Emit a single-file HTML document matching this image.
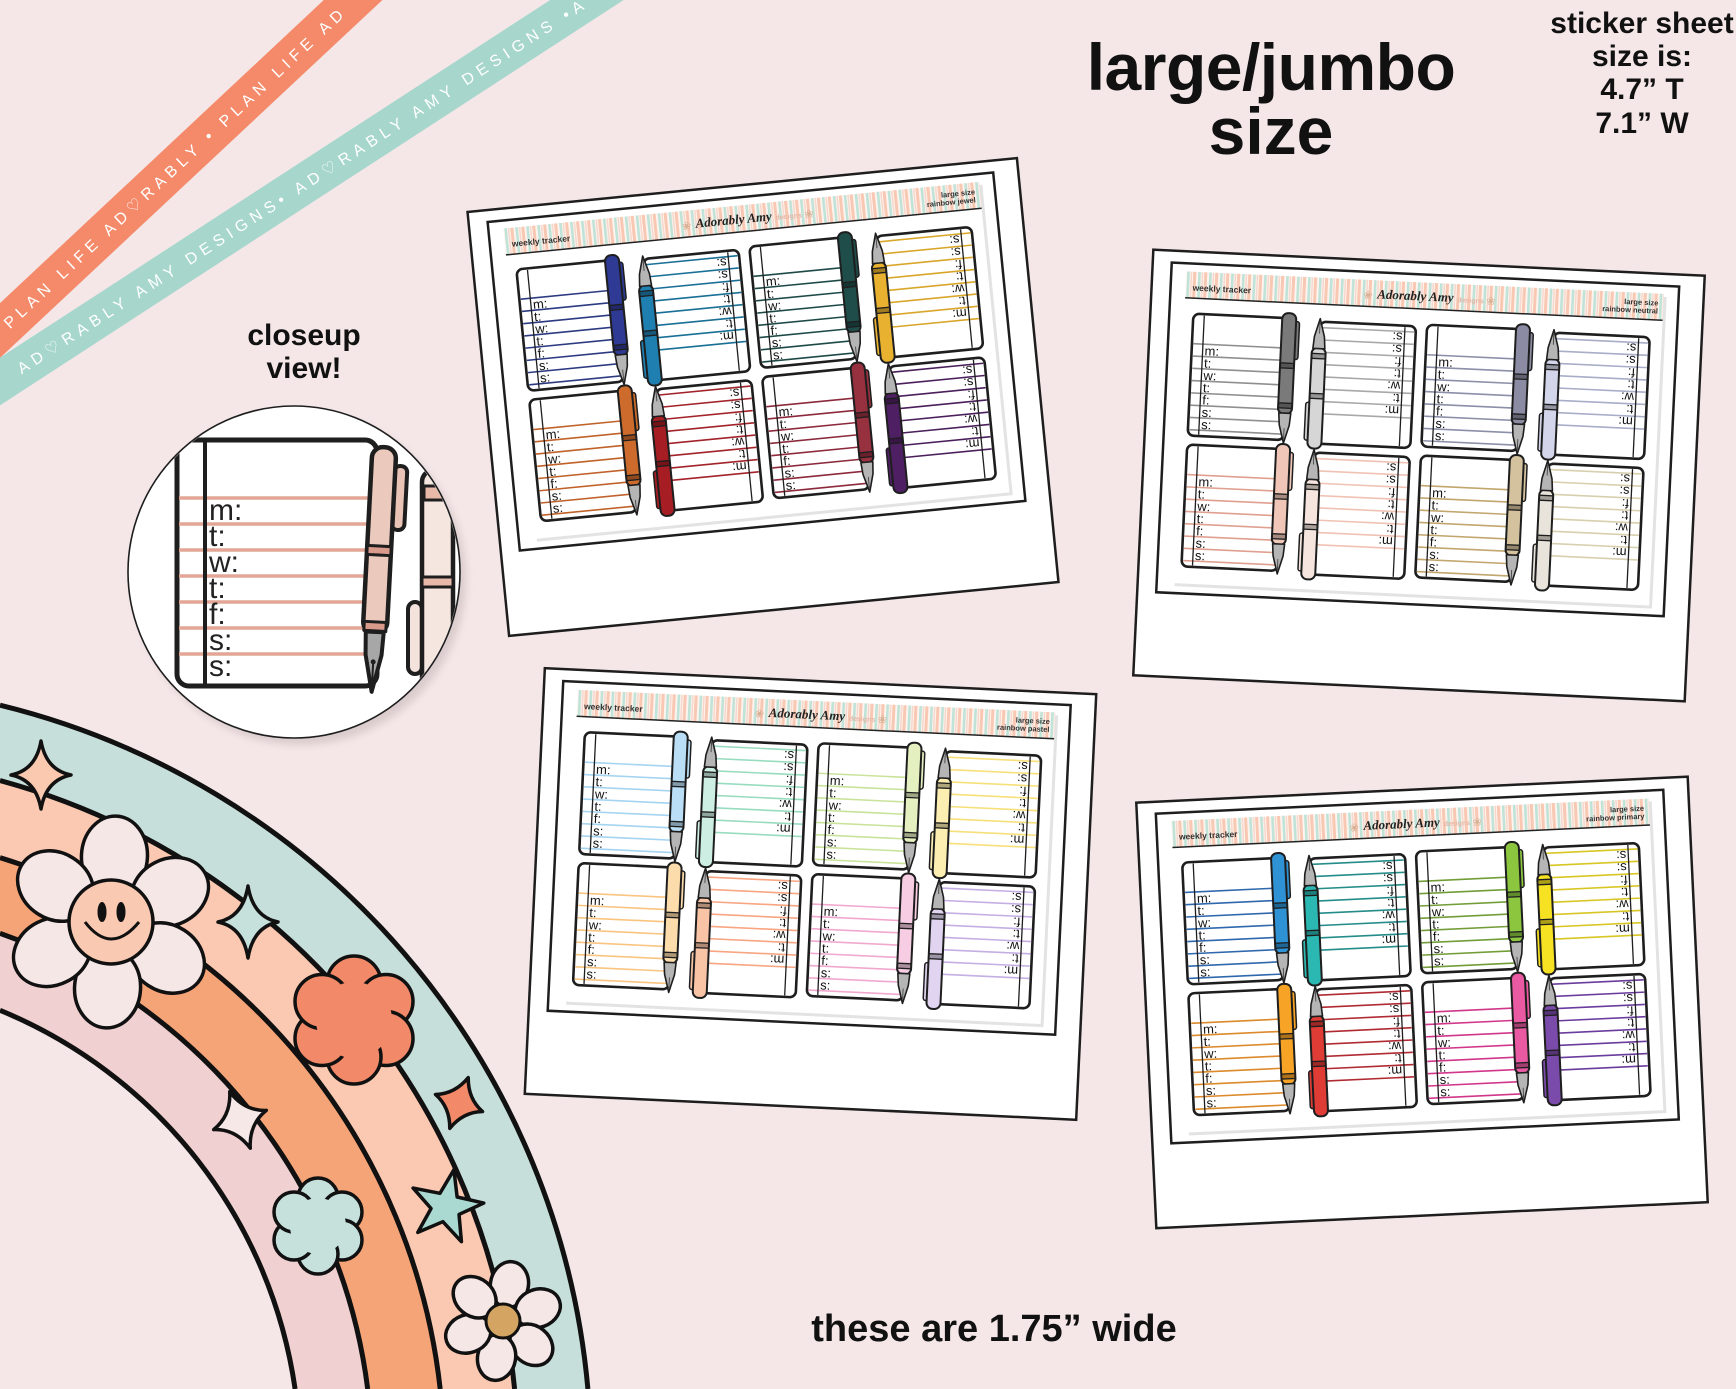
<!DOCTYPE html>
<html><head><meta charset="utf-8"><style>
html,body{margin:0;padding:0;background:#f5e7e8;width:1736px;height:1389px;overflow:hidden;}
svg{display:block;}
</style></head><body>
<svg width="1736" height="1389" viewBox="0 0 1736 1389" xmlns="http://www.w3.org/2000/svg" font-family="'Liberation Sans','DejaVu Sans',sans-serif">
<defs>
<pattern id="st" width="11" height="10" patternUnits="userSpaceOnUse">
<rect width="11" height="10" fill="#fdf3ef"/>
<rect x="0" width="3" height="10" fill="#f9c8b2"/>
<rect x="5" width="2.6" height="10" fill="#bfe3d7"/>
<rect x="8.6" width="1.4" height="10" fill="#f6d6ca"/>
</pattern>
<filter id="blur" x="-20%" y="-20%" width="140%" height="140%"><feGaussianBlur stdDeviation="4"/></filter>
<clipPath id="cc"><circle cx="294" cy="572" r="165"/></clipPath>
<g id="pen" stroke="#1e1e1e" stroke-linejoin="round">
<rect x="5.5" y="8" width="5" height="38" rx="2.5" stroke-width="1.5"/>
<rect x="-7" y="0" width="14" height="101" rx="6" stroke-width="2"/>
<rect x="-7" y="50" width="14" height="5" fill="#000" fill-opacity=".3" stroke-width="1.3"/>
<rect x="-7" y="90" width="14" height="5" fill="#000" fill-opacity=".3" stroke-width="1.3"/>
<path d="M-6 100H6L5 112L0 130L-5 112Z" fill="#b5b5b5" stroke-width="1.6"/>
<path d="M0 115V126" stroke="#444" stroke-width="0.9"/>
</g>
<g id="cA">
<rect width="96" height="122" rx="6" fill="#fff" stroke="#1e1e1e" stroke-width="2.6"/>
<path d="M1.5 30H93M1.5 42.3H93M1.5 54.6H93M1.5 66.9H93M1.5 79.2H93M1.5 91.5H93M1.5 103.8H93M1.5 116.1H93" stroke="currentColor" stroke-width="1.6" fill="none"/>
<path d="M11 1.5V120.5" stroke="#1e1e1e" stroke-width="1.3" fill="none"/>
<text font-size="13" fill="#111" font-family="'Liberation Sans',sans-serif"><tspan x="13" y="41">m:</tspan><tspan x="13" y="53.3">t:</tspan><tspan x="13" y="65.6">w:</tspan><tspan x="13" y="77.9">t:</tspan><tspan x="13" y="90.2">f:</tspan><tspan x="13" y="102.5">s:</tspan><tspan x="13" y="114.8">s:</tspan></text>
<use href="#pen" transform="translate(96,-5)"/>
</g>
<g id="pol">
<rect x="0" y="0" width="552" height="426" fill="#fff" stroke="#1e1e1e" stroke-width="2.5"/>
<rect x="19" y="12" width="508" height="330" fill="#fff" stroke="#1e1e1e" stroke-width="2.5"/>
<g transform="translate(19,12)">
<rect x="18" y="11" width="478" height="312" fill="#e3e3e3"/>
<rect x="15" y="8" width="478" height="312" fill="#fff"/>
<rect x="15" y="8" width="478" height="26" fill="url(#st)"/>
<path d="M15 34.5H493" stroke="#222" stroke-width="1.5"/>
<text x="22" y="27" font-size="8.5" font-weight="bold" fill="#333">weekly tracker</text>
<text x="193" y="27" font-size="11" fill="#d8b296" font-family="'DejaVu Sans',sans-serif">❀</text>
<text x="245" y="26" text-anchor="middle" font-family="'Liberation Serif',serif" font-style="italic" font-weight="bold" font-size="13" fill="#222">Adorably Amy</text>
<text x="287" y="26" font-size="7" font-weight="bold" fill="#e3b6a6">designs</text>
<text x="316" y="27" font-size="11" fill="#d8b296" font-family="'DejaVu Sans',sans-serif">❀</text>
<text x="488" y="20" text-anchor="end" font-size="7.5" font-weight="bold" fill="#333">large size</text>
</g>
</g>
</defs>

<!-- ribbons -->
<polygon points="0,303.1 323.8,0 382.4,0 0,357.9" fill="#f48a69"/>
<polygon points="0,357.65 550.2,0 623.6,0 0,405.35" fill="#a6d6cc"/>
<text transform="translate(0,330.5) rotate(-43.1)" x="8" y="6" fill="#fff" font-size="16" letter-spacing="5.2">PLAN LIFE AD♡RABLY • PLAN LIFE AD</text>
<text transform="translate(0,381.5) rotate(-33)" x="22" y="6" fill="#fff" font-size="16" letter-spacing="5.4">AD♡RABLY AMY DESIGNS• AD♡RABLY AMY DESIGNS •A</text>

<!-- titles -->
<text x="304" y="345" text-anchor="middle" font-size="30" font-weight="bold" fill="#111">closeup</text>
<text x="304" y="378" text-anchor="middle" font-size="30" font-weight="bold" fill="#111">view!</text>
<text x="1271" y="90" text-anchor="middle" font-size="66" font-weight="bold" fill="#111" letter-spacing="-0.5">large/jumbo</text>
<text x="1271" y="154" text-anchor="middle" font-size="66" font-weight="bold" fill="#111">size</text>
<g font-size="30" font-weight="bold" fill="#111" text-anchor="middle">
<text x="1642" y="33">sticker sheet</text>
<text x="1642" y="66">size is:</text>
<text x="1642" y="99">4.7” T</text>
<text x="1642" y="133">7.1” W</text>
</g>
<text x="994" y="1341" text-anchor="middle" font-size="38" font-weight="bold" fill="#111">these are 1.75” wide</text>

<!-- rainbow -->
<path d="M0 705.2A775 775 0 0 1 587.9 1389L514.6 1389A702 702 0 0 0 0 780.5Z" fill="#c6dfda"/>
<path d="M0 780.5A702 702 0 0 1 514.6 1389L440.2 1389A628 628 0 0 0 0 857.6Z" fill="#fbc9b2"/>
<path d="M0 857.6A628 628 0 0 1 440.2 1389L367.7 1389A556 556 0 0 0 0 933.3Z" fill="#f5a477"/>
<path d="M0 933.3A556 556 0 0 1 367.7 1389L295.1 1389A484 484 0 0 0 0 1010.3Z" fill="#f0d0d1"/>
<path d="M0 705.2A775 775 0 0 1 587.9 1389M0 780.5A702 702 0 0 1 514.6 1389M0 857.6A628 628 0 0 1 440.2 1389M0 933.3A556 556 0 0 1 367.7 1389M0 1010.3A484 484 0 0 1 295.1 1389" fill="none" stroke="#111" stroke-width="5"/>
<g stroke="#111" stroke-width="3.5" stroke-linejoin="round">
<path transform="translate(41,775)" d="M0 -34Q5 -5 30 0Q5 5 0 34Q-5 5 -30 0Q-5 -5 0 -34Z" fill="#fbc8b0"/>
<path transform="translate(248,922)" d="M0 -36Q5 -5 30 0Q5 5 0 36Q-5 5 -30 0Q-5 -5 0 -36Z" fill="#c6e0db"/>
<g transform="translate(111,922)" fill="#f6e7e7">
<ellipse transform="rotate(-87)" cx="66" cy="0" rx="40" ry="33"/>
<ellipse transform="rotate(-27)" cx="66" cy="0" rx="40" ry="33"/>
<ellipse transform="rotate(33)" cx="66" cy="0" rx="40" ry="33"/>
<ellipse transform="rotate(93)" cx="66" cy="0" rx="40" ry="33"/>
<ellipse transform="rotate(153)" cx="66" cy="0" rx="40" ry="33"/>
<ellipse transform="rotate(213)" cx="66" cy="0" rx="40" ry="33"/>
<circle r="42" fill="#f9c9b2"/>
<ellipse cx="-9" cy="-10" rx="4.5" ry="10" fill="#111" stroke="none"/>
<ellipse cx="10" cy="-10" rx="4.5" ry="10" fill="#111" stroke="none"/>
<path d="M-26 0Q0 34 28 0" fill="none" stroke-width="3"/>
</g>
<g transform="translate(354,1020)" fill="#f28a6a">
<circle cx="0" cy="-37" r="27"/><circle cx="32" cy="-18.5" r="27"/><circle cx="32" cy="18.5" r="27"/>
<circle cx="0" cy="37" r="27"/><circle cx="-32" cy="18.5" r="27"/><circle cx="-32" cy="-18.5" r="27"/>
<circle r="38" stroke="none"/>
</g>
<path transform="translate(459,1103) rotate(20)" d="M0 -27Q7 -7 25 0Q7 7 0 27Q-7 7 -25 0Q-7 -7 0 -27Z" fill="#f28a6a"/>
<path transform="translate(240,1120) rotate(-20)" d="M0 -30Q7 -7 28 0Q7 7 0 30Q-7 7 -28 0Q-7 -7 0 -30Z" fill="#f7e8e8"/>
<path transform="translate(446,1207) rotate(12)" d="M0 -38L8.8 -12.1L36.1 -11.7L14.3 4.6L22.3 30.7L0 15L-22.3 30.7L-14.3 4.6L-36.1 -11.7L-8.8 -12.1Z" fill="#a9d9d0"/>
<g transform="translate(318,1226)" fill="#c6e0db">
<circle cx="0" cy="-28" r="20"/><circle cx="24" cy="-14" r="20"/><circle cx="24" cy="14" r="20"/>
<circle cx="0" cy="28" r="20"/><circle cx="-24" cy="14" r="20"/><circle cx="-24" cy="-14" r="20"/>
<circle r="28" stroke="none"/>
</g>
<g transform="translate(503,1321)" fill="#f6e7e7">
<ellipse transform="rotate(-80)" cx="37" cy="0" rx="23" ry="19"/>
<ellipse transform="rotate(-20)" cx="37" cy="0" rx="23" ry="19"/>
<ellipse transform="rotate(40)" cx="37" cy="0" rx="23" ry="19"/>
<ellipse transform="rotate(100)" cx="37" cy="0" rx="23" ry="19"/>
<ellipse transform="rotate(160)" cx="37" cy="0" rx="23" ry="19"/>
<ellipse transform="rotate(220)" cx="37" cy="0" rx="23" ry="19"/>
<circle r="17" fill="#d3a462" stroke-width="3"/>
</g>
</g>

<!-- closeup circle -->
<circle cx="300" cy="579" r="166" fill="#b9a9aa" opacity=".45" filter="url(#blur)"/>
<circle cx="294" cy="572" r="166" fill="#fff" stroke="#1e1e1e" stroke-width="1.6"/>
<g clip-path="url(#cc)">
<rect x="177" y="440" width="200" height="246" rx="12" fill="#fff" stroke="#1e1e1e" stroke-width="5"/>
<path d="M179 498H372M179 524H372M179 550H372M179 576H372M179 602H372M179 628H372M179 654H372" stroke="#e2a596" stroke-width="3.5"/>
<path d="M205 442V684" stroke="#1e1e1e" stroke-width="4"/>
<text font-size="30" fill="#222"><tspan x="209" y="520">m:</tspan><tspan x="209" y="546">t:</tspan><tspan x="209" y="572">w:</tspan><tspan x="209" y="598">t:</tspan><tspan x="209" y="624">f:</tspan><tspan x="209" y="650">s:</tspan><tspan x="209" y="676">s:</tspan></text>
<g transform="rotate(3 378 570)" stroke="#1e1e1e" stroke-linejoin="round">
<rect x="389" y="465" width="13" height="64" rx="6" fill="#e9c3b6" stroke-width="4"/>
<rect x="366" y="447" width="24" height="186" rx="11" fill="#ecc9bd" stroke-width="4.5"/>
<rect x="366" y="546" width="24" height="9" fill="#d99a8b" stroke-width="3"/>
<rect x="367" y="622" width="22" height="9" fill="#d99a8b" stroke-width="3"/>
<path d="M369 632L387 632L386 655L378 692L370 655Z" fill="#a7a7a7" stroke-width="4"/>
<path d="M378 662V686" stroke-width="2"/>
<circle cx="378" cy="662" r="2.5" fill="#1e1e1e" stroke="none"/>
</g>
<g stroke="#1e1e1e" stroke-linejoin="round">
<rect x="408" y="602" width="14" height="72" rx="7" fill="#f4e3dc" stroke-width="4"/>
<rect x="422" y="470" width="31" height="300" rx="12" fill="#f5e6e0" stroke-width="4.5"/>
<rect x="424" y="486" width="27" height="14" fill="#e8b9a8" stroke-width="3"/>
<rect x="422" y="577" width="31" height="10" fill="#e8b9a8" stroke-width="3"/>
</g>
</g>

<!-- polaroid 1: jewel -->
<g transform="translate(763,397) rotate(-5.6) translate(-276,-213)">
<use href="#pol"/>
<g transform="translate(19,12)">
<text x="488" y="28" text-anchor="end" font-size="7.5" font-weight="bold" fill="#333">rainbow jewel</text>
<use href="#cA" transform="translate(24,50)" color="#2c3a82" fill="#2e3a94"/>
<use href="#cA" transform="translate(247,174) rotate(180)" color="#1a6f96" fill="#1f7fb0"/>
<use href="#cA" transform="translate(258,50)" color="#1d4a47" fill="#1e4d4a"/>
<use href="#cA" transform="translate(481,174) rotate(180)" color="#d9a62a" fill="#e8b230"/>
<use href="#cA" transform="translate(24,181)" color="#c0622a" fill="#cc6b2c"/>
<use href="#cA" transform="translate(247,305) rotate(180)" color="#a3232b" fill="#a61e24"/>
<use href="#cA" transform="translate(258,181)" color="#8c2a3c" fill="#97303f"/>
<use href="#cA" transform="translate(481,305) rotate(180)" color="#4a1f5c" fill="#4f1f63"/>
</g>
</g>

<!-- polaroid 2: neutral -->
<g transform="translate(1419,475.5) rotate(2.7) translate(-276,-213)">
<use href="#pol"/>
<g transform="translate(19,12)">
<text x="488" y="28" text-anchor="end" font-size="7.5" font-weight="bold" fill="#333">rainbow neutral</text>
<use href="#cA" transform="translate(24,50)" color="#8f8f8f" fill="#7a7a7a"/>
<use href="#cA" transform="translate(247,174) rotate(180)" color="#a8a8a8" fill="#d6d6d6"/>
<use href="#cA" transform="translate(258,50)" color="#8b8fa8" fill="#8b8ca3"/>
<use href="#cA" transform="translate(481,174) rotate(180)" color="#a8adc8" fill="#d3d6ea"/>
<use href="#cA" transform="translate(24,181)" color="#e0a090" fill="#efc6b8"/>
<use href="#cA" transform="translate(247,305) rotate(180)" color="#f0c2b4" fill="#f5e5de"/>
<use href="#cA" transform="translate(258,181)" color="#c2a66e" fill="#d4c29e"/>
<use href="#cA" transform="translate(481,305) rotate(180)" color="#d8cfae" fill="#e8e4dc"/>
</g>
</g>

<!-- polaroid 3: pastel -->
<g transform="translate(810.5,894) rotate(2.7) translate(-276,-213)">
<use href="#pol"/>
<g transform="translate(19,12)">
<text x="488" y="28" text-anchor="end" font-size="7.5" font-weight="bold" fill="#333">rainbow pastel</text>
<use href="#cA" transform="translate(24,50)" color="#a5d4f2" fill="#b9def5"/>
<use href="#cA" transform="translate(247,174) rotate(180)" color="#98dcc0" fill="#cdeee2"/>
<use href="#cA" transform="translate(258,50)" color="#c9e39a" fill="#e5f0c0"/>
<use href="#cA" transform="translate(481,174) rotate(180)" color="#f7df7a" fill="#fbeeb0"/>
<use href="#cA" transform="translate(24,181)" color="#f9c480" fill="#fddcab"/>
<use href="#cA" transform="translate(247,305) rotate(180)" color="#f8a582" fill="#f9c4a6"/>
<use href="#cA" transform="translate(258,181)" color="#f1a8cf" fill="#f7cde3"/>
<use href="#cA" transform="translate(481,305) rotate(180)" color="#c4aee4" fill="#e0d4f0"/>
</g>
</g>

<!-- polaroid 4: primary -->
<g transform="translate(1422,1002.4) rotate(-2.7) translate(-276,-213)">
<use href="#pol"/>
<g transform="translate(19,12)">
<text x="488" y="28" text-anchor="end" font-size="7.5" font-weight="bold" fill="#333">rainbow primary</text>
<use href="#cA" transform="translate(24,50)" color="#2f68ad" fill="#2f92d4"/>
<use href="#cA" transform="translate(247,174) rotate(180)" color="#248c89" fill="#2cb8b2"/>
<use href="#cA" transform="translate(258,50)" color="#729d38" fill="#8cc63f"/>
<use href="#cA" transform="translate(481,174) rotate(180)" color="#d8c624" fill="#f6e223"/>
<use href="#cA" transform="translate(24,181)" color="#dc8a2c" fill="#f6a326"/>
<use href="#cA" transform="translate(247,305) rotate(180)" color="#b02a32" fill="#e03c36"/>
<use href="#cA" transform="translate(258,181)" color="#d2368a" fill="#ea5aa2"/>
<use href="#cA" transform="translate(481,305) rotate(180)" color="#6a3c9e" fill="#7b4bab"/>
</g>
</g>
</svg>
</body></html>
